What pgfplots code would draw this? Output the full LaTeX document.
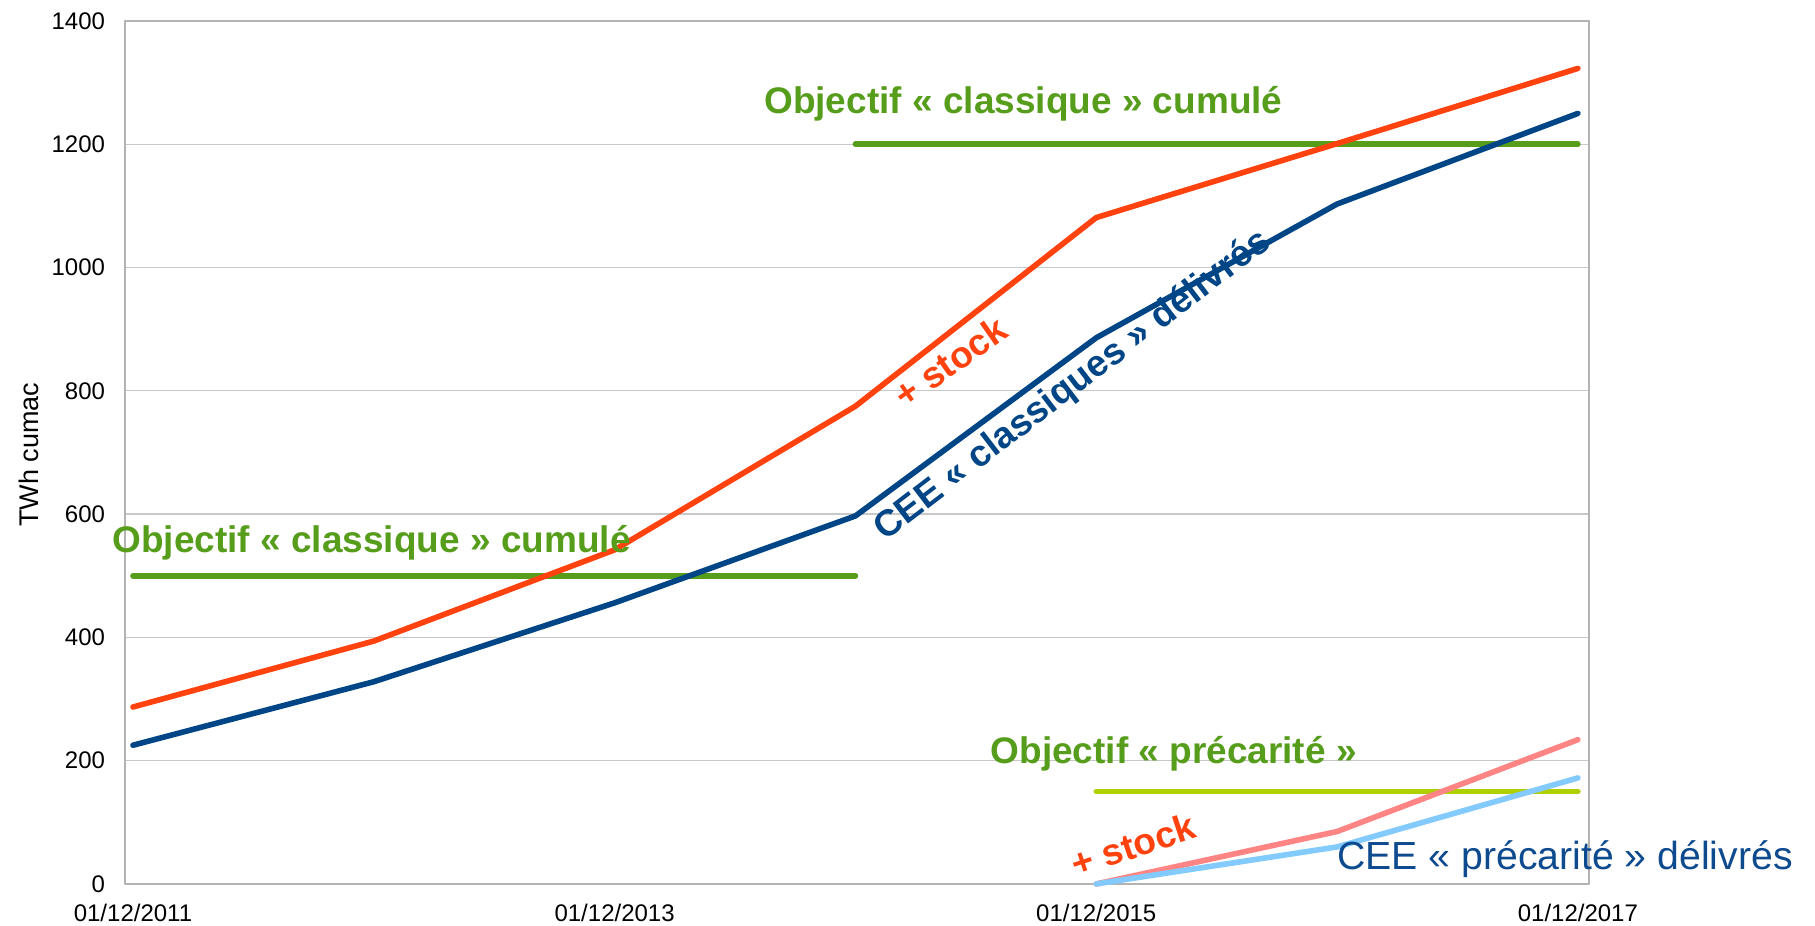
\documentclass[border=0pt]{standalone}
\usepackage{fontspec}
\setmainfont{Liberation Sans}
\usepackage{pgfplots}
\pgfplotsset{compat=1.18}
\definecolor{corange}{HTML}{FF420E}
\definecolor{cblue}{HTML}{004586}
\definecolor{cgreen}{HTML}{579D1C}
\definecolor{cyg}{HTML}{AECF00}
\definecolor{cpink}{HTML}{FF8585}
\definecolor{clblue}{HTML}{83CAFF}
\definecolor{cgrid}{HTML}{C8C8C8}
\definecolor{caxis}{HTML}{B3B3B3}
\definecolor{ctextblue}{HTML}{0E4A8E}
\begin{document}
\begin{tikzpicture}
\begin{axis}[
  scale only axis, width=732pt, height=431.5pt,
  xmin=-0.033, xmax=6.046, ymin=0, ymax=1400,
  xtick={0,2,4,6},
  xticklabels={01/12/2011,01/12/2013,01/12/2015,01/12/2017},
  ytick={0,200,...,1400},
  ymajorgrids,
  major grid style={cgrid, line width=0.6pt},
  axis line style={caxis, line width=0.9pt},
  major tick length=0pt,
  tick label style={font=\fontsize{12}{14}\selectfont, text=black},
  /pgf/number format/assume math mode=true,
  /pgf/number format/1000 sep={},
  yticklabel style={xshift=-6.5pt},
  xticklabel style={yshift=-6.5pt},
  ylabel={TWh cumac},
  ylabel style={font=\fontsize{13.5}{16}\selectfont, at={(rel axis cs:-0.0656,0.4975)}, anchor=center},
  clip=false,
  line cap=round, line join=round,
]
\addplot[cgreen, line width=2.8pt] coordinates {(0,500) (3,500)};
\addplot[cgreen, line width=2.8pt] coordinates {(3,1200) (6,1200)};
\addplot[cyg, line width=2.8pt] coordinates {(4,150) (6,150)};
\addplot[corange, line width=2.8pt] coordinates {(0,287) (1,394) (2,542) (3,775) (4,1081) (5,1201) (6,1323)};
\addplot[cblue, line width=2.8pt] coordinates {(0,225) (1,328) (2,456) (3,597) (4,886) (5,1103) (6,1250)};
\addplot[cpink, line width=2.8pt] coordinates {(4,0) (5,85) (6,234)};
\addplot[clblue, line width=2.8pt] coordinates {(4,0) (5,60) (6,172)};

\node[anchor=west, inner sep=0pt, text=cgreen, font=\bfseries\fontsize{18.5}{22}\selectfont] at (axis cs:2.62,1265) {Objectif « classique » cumulé};
\node[anchor=west, inner sep=0pt, text=cgreen, font=\bfseries\fontsize{18.5}{22}\selectfont] at (axis cs:-0.087,553) {Objectif « classique » cumulé};
\node[anchor=west, inner sep=0pt, text=cgreen, font=\bfseries\fontsize{18.5}{22}\selectfont] at (axis cs:3.56,211) {Objectif « précarité »};
\node[rotate=37.4, inner sep=0pt, text=cblue, font=\bfseries\fontsize{18.5}{22}\selectfont] at (axis cs:3.903,808) {CEE « classiques » délivrés};
\node[rotate=35, inner sep=0pt, text=corange, font=\bfseries\fontsize{18.5}{22}\selectfont] at (axis cs:3.393,847) {+ stock};
\node[rotate=18.4, inner sep=0pt, text=corange, font=\bfseries\fontsize{18.5}{22}\selectfont] at (axis cs:4.153,63) {+ stock};
\node[anchor=west, inner sep=0pt, text=ctextblue, font=\fontsize{19.6}{23}\selectfont] at (axis cs:5.0,40.6) {CEE « précarité » délivrés};

\coordinate (bbsw) at (rel axis cs:-0.0854,-0.0487);
\coordinate (bbne) at (rel axis cs:1.1544,1.0243);
\end{axis}
\pgfresetboundingbox
\path[use as bounding box] (bbsw) rectangle (bbne);
\end{tikzpicture}
\end{document}
